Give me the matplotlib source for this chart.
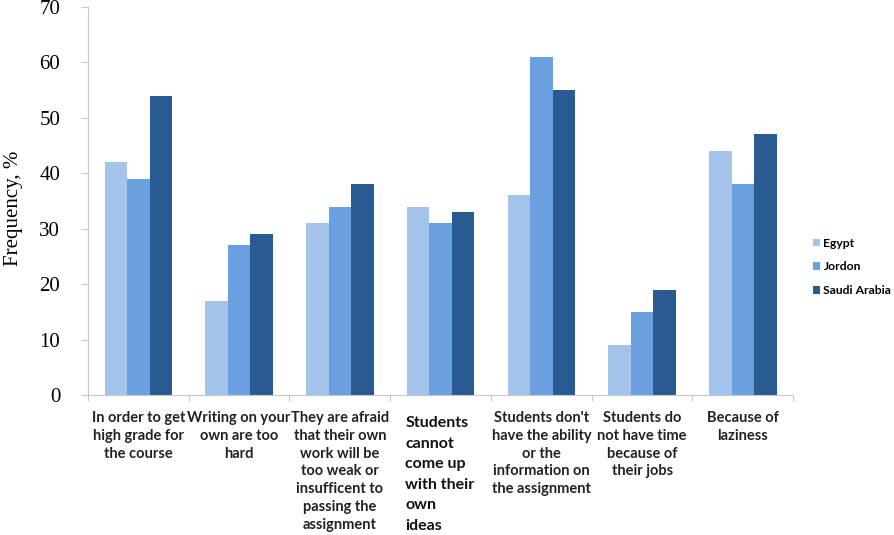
import matplotlib
matplotlib.use("Agg")
import matplotlib.pyplot as plt
import numpy as np

categories = [
    "In order to get\nhigh grade for\nthe course",
    "Writing on your\nown are too\nhard",
    "They are afraid\nthat their own\nwork will be\ntoo weak or\ninsufficent to\npassing the\nassignment",
    "Students\ncannot\ncome up\nwith their\nown\nideas",
    "Students don't\nhave the ability\nor the\ninformation on\nthe assignment",
    "Students do\nnot have time\nbecause of\ntheir jobs",
    "Because of\nlaziness",
]
series_names = ["Egypt", "Jordon", "Saudi Arabia"]
egypt = [42, 17, 31, 34, 36, 9, 44]
jordon = [39, 27, 34, 31, 61, 15, 38]
saudi = [54, 29, 38, 33, 55, 19, 47]
yticks = [0, 10, 20, 30, 40, 50, 60, 70]

colors = ["#a3c3ea", "#6aa0e0", "#295a92"]

fig = plt.figure(figsize=(8.95, 5.35), dpi=100)
ax = fig.add_axes([0.0983, 0.2617, 0.788, 0.7253])

x = np.arange(len(categories))
w = 0.223
for i, (vals, name) in enumerate(zip([egypt, jordon, saudi], series_names)):
    ax.bar(x + (i - 1) * w, vals, width=w, color=colors[i], label=name,
           edgecolor="none", zorder=2)

ax.set_xlim(-0.5, len(categories) - 0.5)
ax.set_ylim(0, 70)
ax.set_yticks(yticks)
ax.set_yticklabels([str(t) for t in yticks], fontfamily="Liberation Serif", fontsize=15)
ax.set_ylabel("Frequency, %", fontfamily="Liberation Serif", fontsize=15)
ax.yaxis.set_label_coords(-0.092, 0.48)

for s in ["top", "right"]:
    ax.spines[s].set_visible(False)
ax.spines["left"].set_color("#c8c8c8")
ax.spines["bottom"].set_color("#c8c8c8")
ax.tick_params(axis="y", color="#c8c8c8", length=5, pad=15)

ax.set_xticks(np.arange(len(categories) + 1) - 0.5, minor=False)
ax.set_xticklabels([])
ax.tick_params(axis="x", color="#c8c8c8", length=4)

for i, c in enumerate(categories):
    if i == 3:
        ax.text(i - 0.35, -3.8, c, ha="left", va="top", fontsize=11.5,
                fontfamily="Lato", fontweight="bold", linespacing=1.6,
                color="#111111")
    else:
        ax.text(i, -2.9, c, ha="center", va="top", fontsize=10.5,
                fontfamily="Lato", fontweight="bold", linespacing=1.34,
                color="#222222")

leg = ax.legend(loc="center left", bbox_to_anchor=(1.012, 0.33), frameon=False,
                handlelength=0.6, handleheight=0.6, handletextpad=0.3,
                labelspacing=1.05, prop={"family": "Lato", "weight": "bold", "size": 8.7})

fig.savefig("out.png", dpi=100)
